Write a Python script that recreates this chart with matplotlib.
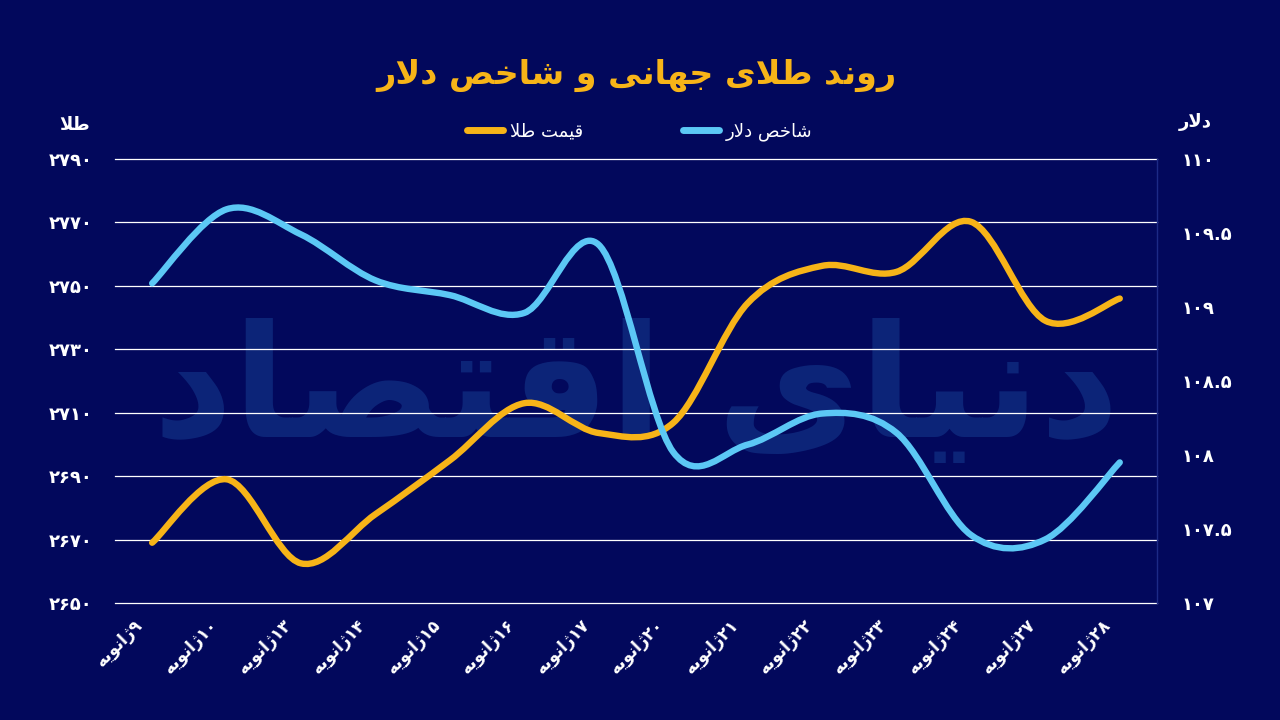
import matplotlib
matplotlib.use('Agg')
import matplotlib.pyplot as plt
from matplotlib.path import Path
from matplotlib.patches import PathPatch
from matplotlib.lines import Line2D
from matplotlib.ticker import FuncFormatter
import matplotlib.transforms as mtransforms

# ---- data ----
days = ['۹', '۱۰', '۱۳', '۱۴', '۱۵', '۱۶', '۱۷', '۲۰', '۲۱', '۲۲', '۲۳', '۲۴', '۲۷', '۲۸']
month = 'ژانویه'
gold = [2669, 2689, 2662.5, 2678, 2695, 2713, 2703.6, 2706.8, 2744.5, 2756.3, 2754.4, 2770.2, 2739, 2746]
dollar = [109.16, 109.66, 109.49, 109.18, 109.08, 108.96, 109.42, 108.02, 108.07, 108.28, 108.15, 107.46, 107.43, 107.95]
gold_ticks = [2650, 2670, 2690, 2710, 2730, 2750, 2770, 2790]
dollar_ticks = [107, 107.5, 108, 108.5, 109, 109.5, 110]

title = 'روند طلای جهانی و شاخص دلار'
gold_label = 'قیمت طلا'
dollar_label = 'شاخص دلار'
left_unit = 'طلا'
right_unit = 'دلار'
watermark = 'دنیای اقتصاد'

BG = '#02085c'
GOLD = '#f7b418'
BLUE = '#5cc8f5'

# ---- minimal persian shaping (matplotlib has no arabic shaping) ----
FORMS = {
    'ا': ('\uFE8D', '\uFE8E', None, None),
    'ت': ('\uFE95', '\uFE96', '\uFE97', '\uFE98'),
    'ج': ('\uFE9D', '\uFE9E', '\uFE9F', '\uFEA0'),
    'خ': ('\uFEA5', '\uFEA6', '\uFEA7', '\uFEA8'),
    'د': ('\uFEA9', '\uFEAA', None, None),
    'ر': ('\uFEAD', '\uFEAE', None, None),
    'ژ': ('\uFB8A', '\uFB8B', None, None),
    'ش': ('\uFEB5', '\uFEB6', '\uFEB7', '\uFEB8'),
    'ص': ('\uFEB9', '\uFEBA', '\uFEBB', '\uFEBC'),
    'ط': ('\uFEC1', '\uFEC2', '\uFEC3', '\uFEC4'),
    'ق': ('\uFED5', '\uFED6', '\uFED7', '\uFED8'),
    'ل': ('\uFEDD', '\uFEDE', '\uFEDF', '\uFEE0'),
    'م': ('\uFEE1', '\uFEE2', '\uFEE3', '\uFEE4'),
    'ن': ('\uFEE5', '\uFEE6', '\uFEE7', '\uFEE8'),
    'ه': ('\uFEE9', '\uFEEA', '\uFEEB', '\uFEEC'),
    'و': ('\uFEED', '\uFEEE', None, None),
    'ی': ('\uFBFC', '\uFBFD', '\uFBFE', '\uFBFF'),
    'LA': ('\uFEFB', '\uFEFC', None, None),
}
DIGITS = '۰۱۲۳۴۵۶۷۸۹.'


def rtl(s):
    toks = []
    i = 0
    while i < len(s):
        if s[i] == 'ل' and i + 1 < len(s) and s[i + 1] == 'ا':
            toks.append('LA')
            i += 2
        else:
            toks.append(s[i])
            i += 1
    out = []
    for k, t in enumerate(toks):
        if t not in FORMS:
            out.append(t)
            continue
        f = FORMS[t]
        prev = toks[k - 1] if k > 0 else None
        nxt = toks[k + 1] if k + 1 < len(toks) else None
        jp = prev in FORMS and FORMS[prev][2] is not None
        jn = f[2] is not None and nxt in FORMS
        if jp and jn:
            out.append(f[3])
        elif jp:
            out.append(f[1])
        elif jn:
            out.append(f[2])
        else:
            out.append(f[0])
    vis = ''.join(reversed(out))
    # keep digit runs left-to-right
    res, run = '', ''
    for ch in vis:
        if ch in DIGITS:
            run += ch
        else:
            res += run[::-1] + ch
            run = ''
    return res + run[::-1]


def fa_num(v, pos=None):
    return '{:g}'.format(v).translate(str.maketrans('0123456789', '۰۱۲۳۴۵۶۷۸۹'))


def smooth_path(xs, ys):
    # catmull-rom spline as cubic bezier segments
    n = len(xs)
    verts = [(xs[0], ys[0])]
    codes = [Path.MOVETO]
    for i in range(n - 1):
        x0, y0 = (xs[i - 1], ys[i - 1]) if i > 0 else (xs[i], ys[i])
        x1, y1 = xs[i], ys[i]
        x2, y2 = xs[i + 1], ys[i + 1]
        x3, y3 = (xs[i + 2], ys[i + 2]) if i + 2 < n else (x2, y2)
        verts += [(x1 + (x2 - x0) / 6, y1 + (y2 - y0) / 6),
                  (x2 - (x3 - x1) / 6, y2 - (y3 - y1) / 6),
                  (x2, y2)]
        codes += [Path.CURVE4] * 3
    return Path(verts, codes)


plt.rcParams['font.family'] = ['DejaVu Sans']

fig = plt.figure(figsize=(12.8, 7.2), dpi=100, facecolor=BG)
ax = fig.add_axes([0.0898, 0.1625, 0.8141, 0.6167])
ax.set_facecolor(BG)
ax2 = ax.twinx()
ax2.patch.set_visible(False)

xs = list(range(len(days)))

ax.set_xlim(-0.5, len(days) - 0.5)
ax.set_ylim(gold_ticks[0], gold_ticks[-1])
ax2.set_ylim(dollar_ticks[0], dollar_ticks[-1])

ax.set_yticks(gold_ticks)
ax2.set_yticks(dollar_ticks)
ax.yaxis.set_major_formatter(FuncFormatter(fa_num))
ax2.yaxis.set_major_formatter(FuncFormatter(fa_num))

ax.grid(axis='y', color='white', linewidth=0.9, clip_on=False)
ax.set_axisbelow(True)

for a in (ax, ax2):
    for s in a.spines.values():
        s.set_visible(False)
    a.tick_params(length=0, colors='white', labelsize=13)
    for lab in a.get_yticklabels():
        lab.set_fontweight('bold')
ax2.spines['right'].set_visible(True)
ax2.spines['right'].set_color('#1c2a86')
ax2.spines['right'].set_linewidth(1)
ax.tick_params(axis='y', pad=16)
ax2.tick_params(axis='y', pad=18)

# faint watermark behind the chart
ax.text(0.5, 0.47, rtl(watermark), transform=ax.transAxes, ha='center', va='center',
        fontsize=112, fontweight='bold', color='#0c2478', zorder=0.1)

ax.add_patch(PathPatch(smooth_path(xs, gold), fill=False, edgecolor=GOLD,
                       linewidth=4.6, capstyle='round', joinstyle='round', zorder=3))
ax2.add_patch(PathPatch(smooth_path(xs, dollar), fill=False, edgecolor=BLUE,
                        linewidth=4.6, capstyle='round', joinstyle='round', zorder=3))

ax.set_xticks(xs)
ax.set_xticklabels([rtl(d + month) for d in days], rotation=45, ha='right', va='center',
                   rotation_mode='anchor', fontsize=12, fontweight='bold', color='white')
ax.tick_params(axis='x', pad=14)
offset = mtransforms.ScaledTranslation(-12 / 100, 0, fig.dpi_scale_trans)
for lab in ax.get_xticklabels():
    lab.set_transform(lab.get_transform() + offset)

fig.text(0.497, 1 - 75 / 720, rtl(title), ha='center', va='center', fontsize=24,
         fontweight='bold', color=GOLD)
fig.text(75 / 1280, 1 - 125 / 720, rtl(left_unit), ha='center', va='center', fontsize=13,
         fontweight='bold', color='white')
fig.text(1195 / 1280, 1 - 122 / 720, rtl(right_unit), ha='center', va='center', fontsize=13,
         fontweight='bold', color='white')

handles = [Line2D([], [], color=GOLD, linewidth=5, solid_capstyle='round'),
           Line2D([], [], color=BLUE, linewidth=5, solid_capstyle='round')]
fig.legend(handles, [rtl(gold_label), rtl(dollar_label)], loc='center',
           bbox_to_anchor=(0.5, 1 - 132 / 720), ncol=2, frameon=False,
           fontsize=13, labelcolor='white', handlelength=2.0, handletextpad=0.4,
           columnspacing=5.5)

fig.savefig('out.png', dpi=100, facecolor=BG)
